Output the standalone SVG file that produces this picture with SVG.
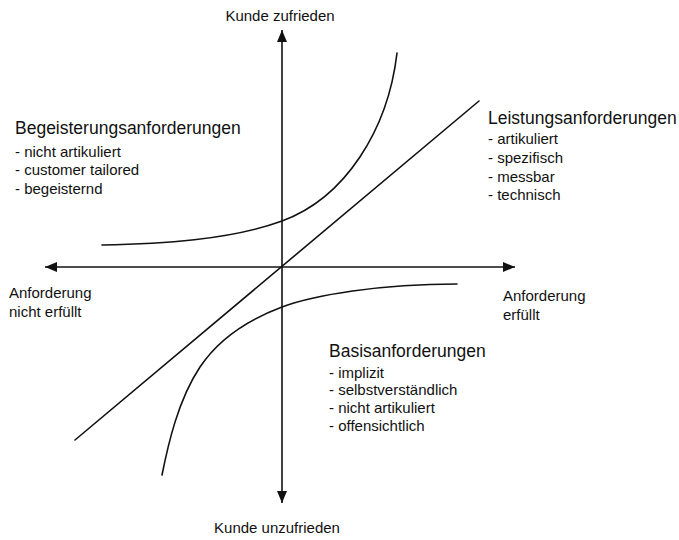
<svg xmlns="http://www.w3.org/2000/svg" width="679" height="540" viewBox="0 0 679 540">
  <style>
    text { font-family: "Liberation Sans", Arial, sans-serif; fill: #111; }
    .head { font-size: 17.5px; }
    .item { font-size: 15px; }
    .lbl { font-size: 15px; }
    .axis { stroke: #111; stroke-width: 1.6; fill: none; }
    .curve { stroke: #111; stroke-width: 1.6; fill: none; stroke-linecap: round; }
  </style>
  <defs>
    <marker id="arrow" markerUnits="userSpaceOnUse" markerWidth="13" markerHeight="11" refX="12" refY="5" orient="auto">
      <path d="M0,0 L12,5 L0,10 z" fill="#111"/>
    </marker>
  </defs>
  <rect width="679" height="540" fill="#fff"/>

  <g id="connectors">
    <line class="axis" x1="282" y1="267" x2="282" y2="30" marker-end="url(#arrow)"/>
    <line class="axis" x1="282" y1="267" x2="282" y2="503" marker-end="url(#arrow)"/>
    <line class="axis" x1="282" y1="267" x2="45" y2="267" marker-end="url(#arrow)"/>
    <line class="axis" x1="282" y1="267" x2="515" y2="267" marker-end="url(#arrow)"/>
  </g>

  <g id="curves">
    <line id="leistung-line" class="curve" x1="75" y1="440" x2="479" y2="101"/>
    <path id="begeisterung-curve" class="curve" d="M102,245 C160,244 230,240 282,221 C345,198 388,130 397,53"/>
    <path id="basis-curve" class="curve" d="M162,475 C168,445 178,400 200,367 C220,337 250,319 282,307 C314,295 380,284 457,284"/>
  </g>

  <g id="label-kunde-zufrieden">
    <text class="lbl" x="280" y="21" text-anchor="middle">Kunde zufrieden</text>
  </g>
  <g id="label-kunde-unzufrieden">
    <text class="lbl" x="277" y="533" text-anchor="middle">Kunde unzufrieden</text>
  </g>
  <g id="label-nicht-erfuellt">
    <text class="lbl" x="9" y="298">Anforderung</text>
    <text class="lbl" x="9" y="317">nicht erfüllt</text>
  </g>
  <g id="label-erfuellt">
    <text class="lbl" x="503" y="301">Anforderung</text>
    <text class="lbl" x="503" y="320">erfüllt</text>
  </g>

  <g id="begeisterungsanforderungen">
    <text class="head" x="15" y="134">Begeisterungsanforderungen</text>
    <text class="item" x="15" y="157">- nicht artikuliert</text>
    <text class="item" x="15" y="175">- customer tailored</text>
    <text class="item" x="15" y="194">- begeisternd</text>
  </g>

  <g id="leistungsanforderungen">
    <text class="head" x="488" y="124">Leistungsanforderungen</text>
    <text class="item" x="488" y="144">- artikuliert</text>
    <text class="item" x="488" y="163">- spezifisch</text>
    <text class="item" x="488" y="182">- messbar</text>
    <text class="item" x="488" y="200">- technisch</text>
  </g>

  <g id="basisanforderungen">
    <text class="head" x="329" y="357">Basisanforderungen</text>
    <text class="item" x="329" y="378">- implizit</text>
    <text class="item" x="329" y="395">- selbstverständlich</text>
    <text class="item" x="329" y="413">- nicht artikuliert</text>
    <text class="item" x="329" y="431">- offensichtlich</text>
  </g>
</svg>
